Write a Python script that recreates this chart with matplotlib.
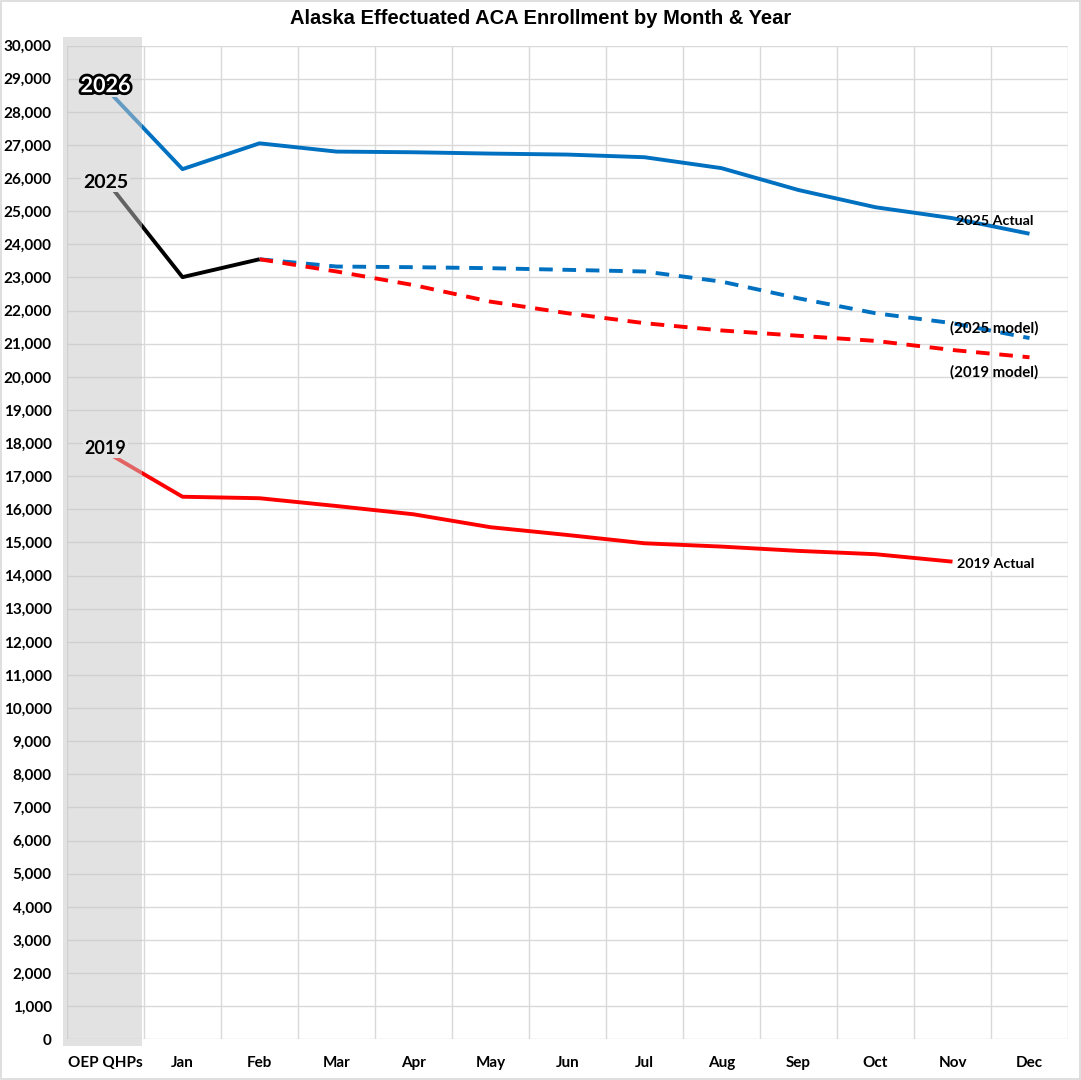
import matplotlib
matplotlib.use("Agg")
import matplotlib.pyplot as plt
from matplotlib.patches import Rectangle
import matplotlib.patheffects as pe

# ---- data ----
categories = ["OEP QHPs", "Jan", "Feb", "Mar", "Apr", "May", "Jun", "Jul",
              "Aug", "Sep", "Oct", "Nov", "Dec"]
actual_2025 = [28720, 26270, 27050, 26800, 26780, 26740, 26710, 26630,
               26300, 25640, 25120, 24790, 24320]
actual_2026 = [25950, 23010, 23550]
model_2025 = [23550, 23330, 23310, 23280, 23230, 23180, 22875, 22370,
              21920, 21620, 21170]
model_2019 = [23550, 23180, 22770, 22270, 21920, 21620, 21400, 21240,
              21085, 20810, 20590]
actual_2019 = [17740, 16380, 16335, 16100, 15850, 15460, 15225, 14975,
               14875, 14745, 14645, 14420]
yticks = list(range(0, 30001, 1000))
title = "Alaska Effectuated ACA Enrollment by Month & Year"

BLUE = "#0070C0"
RED = "#FF0000"
BLACK = "#000000"
GRID = "#d9d9d9"

fig = plt.figure(figsize=(10.81, 10.80), dpi=100)
ax = fig.add_axes([67 / 1081, 1 - 1039.3 / 1080, 1001 / 1081, (1039.3 - 45.6) / 1080])

x_all = list(range(len(categories)))
lw = 2.8
ax.plot(x_all[:len(actual_2025)], actual_2025, color=BLUE, lw=lw, zorder=3,
        solid_capstyle="butt", solid_joinstyle="round")
ax.plot(x_all[:len(actual_2026)], actual_2026, color=BLACK, lw=lw, zorder=4,
        solid_capstyle="butt", solid_joinstyle="round")
ax.plot(x_all[2:2 + len(model_2025)], model_2025, color=BLUE, lw=lw,
        dashes=(3.5, 2.5), zorder=3)
ax.plot(x_all[2:2 + len(model_2019)], model_2019, color=RED, lw=lw,
        dashes=(3.5, 2.5), zorder=3.5)
ax.plot(x_all[:len(actual_2019)], actual_2019, color=RED, lw=lw, zorder=3,
        solid_capstyle="butt", solid_joinstyle="round")

# shaded OEP column (semi-transparent, over the lines)
shade = Rectangle((-0.552, -200), 1.026, 30470, facecolor="#c6c6c6",
                  alpha=0.5, edgecolor="none", zorder=5, clip_on=False)
ax.add_patch(shade)

ax.set_xlim(-0.5, len(categories) - 0.5)
ax.set_ylim(0, 30000)
ax.set_yticks(yticks)
ax.set_yticklabels([f"{v:,}" for v in yticks])
ax.set_xticks(x_all)
ax.set_xticklabels(categories)
ax.set_xticks([i - 0.5 for i in range(len(categories) + 1)], minor=True)
ax.grid(True, axis="y", which="major", color=GRID, lw=1.0, zorder=1)
ax.grid(True, axis="x", which="minor", color=GRID, lw=1.0, zorder=1)
ax.grid(False, axis="x", which="major")
ax.set_axisbelow(True)
for s in ax.spines.values():
    s.set_visible(False)
ax.tick_params(axis="both", which="both", length=0)
ax.tick_params(axis="y", pad=11)
ax.tick_params(axis="x", pad=12)
for lab in ax.get_yticklabels() + ax.get_xticklabels():
    lab.set_fontfamily("Lato")
    lab.set_fontweight("bold")
    lab.set_fontsize(11)

shade_bg = "#e3e3e3"
ax.text(0, 28790, "2026", ha="center", va="center", fontsize=15.5,
        fontweight="bold", family="Lato", color="white", zorder=7,
        path_effects=[pe.withStroke(linewidth=4, foreground="black")],
        bbox=dict(boxstyle="square,pad=0.05", fc=shade_bg, ec="none"))
ax.text(0, 25880, "2025", ha="center", va="center", fontsize=14,
        fontweight="bold", family="Lato", color="black", zorder=7,
        bbox=dict(boxstyle="square,pad=0.08", fc=shade_bg, ec="none"))
ax.text(0, 17840, "2019", ha="center", va="center", fontsize=13,
        fontweight="bold", family="Lato", color="black", zorder=7,
        bbox=dict(boxstyle="square,pad=0.08", fc=shade_bg, ec="none"))

ax.text(11.045, 24707, "2025 Actual", ha="left", va="center", fontsize=10.3,
        fontweight="bold", family="Lato", color="black", zorder=7)
ax.text(10.967, 21476, "(2025 model)", ha="left", va="center", fontsize=10.8,
        fontweight="bold", family="Lato", color="black", zorder=7)
ax.text(10.967, 20148, "(2019 model)", ha="left", va="center", fontsize=10.8,
        fontweight="bold", family="Lato", color="black", zorder=7)
ax.text(11.058, 14350, "2019 Actual", ha="left", va="center", fontsize=10.3,
        fontweight="bold", family="Lato", color="black", zorder=7,
        bbox=dict(boxstyle="square,pad=0.05", fc="white", ec="none"))

fig.text(0.5, 1 - 18 / 1080, title, ha="center", va="center", fontsize=14.5,
         fontweight="bold", family="Liberation Sans")

fig.patches.append(Rectangle((0.0005, 0.0005), 0.999, 0.999, transform=fig.transFigure,
                             fill=False, edgecolor="#d9d9d9", lw=1.2))

fig.savefig("out.png", dpi=100)
